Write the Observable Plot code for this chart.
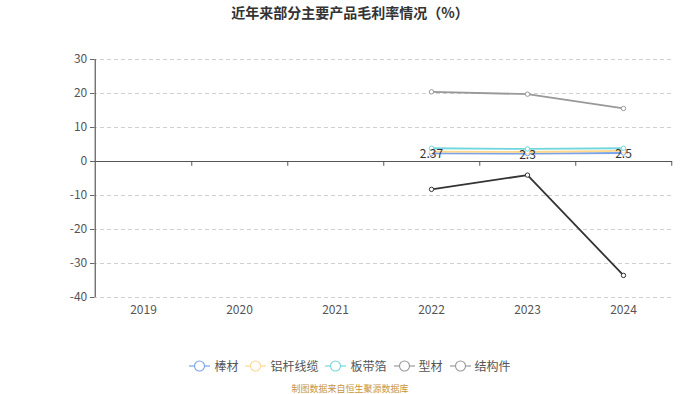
<!DOCTYPE html>
<html><head><meta charset="utf-8">
<script src="https://cdn.jsdelivr.net/npm/d3@7"></script>
<script src="https://cdn.jsdelivr.net/npm/@observablehq/plot@0.6"></script>
<style>
body{margin:0;width:700px;height:394px;background:#fff;font-family:"Noto Sans CJK SC","Noto Sans",sans-serif;overflow:hidden;position:relative}
#title{position:absolute;top:2px;left:0;width:700px;text-align:center;font-size:14px;font-weight:bold;color:#333}
#chart{position:absolute;top:30px;left:0}
#legend{position:absolute;top:357px;left:0;width:700px;display:flex;justify-content:center;gap:7px;font-size:12px;color:#555}
#legend span{display:flex;align-items:center;gap:4px}
#caption{position:absolute;top:382px;left:0;width:700px;text-align:center;font-size:9px;color:#c9953a}
</style></head>
<body>
<div id="title">近年来部分主要产品毛利率情况（%）</div>
<div id="chart"></div>
<div id="legend"></div>
<div id="caption">制图数据来自恒生聚源数据库</div>
<script>
const years = ["2019","2020","2021","2022","2023","2024"];
const dataYears = ["2022","2023","2024"];
const seriesNames = ["棒材","铝杆线缆","板带箔","型材","结构件"];
const seriesColors = ["#7aa2e8","#ffd88a","#72d7dd","#999999","#333333"];
const legendColors = ["#7aa2e8","#ffd88a","#72d7dd","#999999","#999999"];
const bangcai = [2.37, 2.3, 2.5];
const lvgan = [2.9, 2.8, 3.1];
const bandaibo = [3.9, 3.7, 3.9];
const xingcai = [20.5, 19.8, 15.6];
const jiegoujian = [-8.2, -4.0, -33.5];
const yTicks = [30,20,10,0,-10,-20,-30,-40];
const labelTexts = ["2.37","2.3","2.5"];

const allValues = [bangcai, lvgan, bandaibo, xingcai, jiegoujian];
const rows = [];
seriesNames.forEach((s,i)=>dataYears.forEach((y,j)=>rows.push({series:s, year:y, value:allValues[i][j], color:seriesColors[i]})));
const labelRows = dataYears.map((y,j)=>({year:y, value:bangcai[j], text:labelTexts[j]}));

const W = 700, H = 320, mL = 93, mR = 28, mT = 29, mB = 53;
const bw = (W - mL - mR) / years.length;

const marks = [
  Plot.ruleY(yTicks.filter(d=>d!==0), {stroke:"#d0d0d0", strokeDasharray:"4,3"}),
  Plot.ruleY([0], {stroke:"#555", strokeWidth:1}),
  Plot.ruleX([years[0]], {y1:30, y2:-40, stroke:"#666", strokeWidth:1.3, dx:-bw/2}),
  Plot.ruleX(years, {y1:0, y2:-1.4, stroke:"#555", dx:bw/2}),
  Plot.tickY(yTicks, {x:()=>years[0], y:d=>d, stroke:"#666", insetRight: bw - 5, dx:-5, strokeWidth:1}),
  Plot.text(yTicks, {x:()=>years[0], y:d=>d, text:d=>String(d), textAnchor:"end", dx:-bw/2 - 8, fontSize:12, fill:"#555"}),
  Plot.text(years, {x:d=>d, y:()=>-40, text:d=>d, dy:13, fontSize:12, fill:"#555"}),
];
seriesNames.forEach((s,i)=>{
  const d = rows.filter(r=>r.series===s);
  marks.push(Plot.line(d, {x:"year", y:"value", stroke:seriesColors[i], strokeWidth: i>=3?1.8:1.8}));
});
seriesNames.forEach((s,i)=>{
  const d = rows.filter(r=>r.series===s);
  marks.push(Plot.dot(d, {x:"year", y:"value", r:2.2, fill:"#fff", stroke:seriesColors[i], strokeWidth:1}));
});
marks.push(Plot.text(labelRows, {x:"year", y:"value", text:"text", fontSize:12, fill:"#333", dy:1}));

const chart = Plot.plot({
  width: W, height: H,
  marginLeft: mL, marginRight: mR, marginTop: mT, marginBottom: mB,
  x: {type:"band", domain: years, padding:0, axis:null},
  y: {domain:[-40,30], axis:null},
  style: {fontFamily:'"Noto Sans CJK SC","Noto Sans",sans-serif', background:"#fff"},
  marks
});
document.getElementById("chart").appendChild(chart);

const legend = document.getElementById("legend");
seriesNames.forEach((s,i)=>{
  const span = document.createElement("span");
  span.innerHTML = `<svg width="21" height="14"><line x1="0" y1="7" x2="21" y2="7" stroke="${legendColors[i]}" stroke-width="1.2"/><circle cx="10.5" cy="7" r="5" fill="#fff" stroke="${legendColors[i]}" stroke-width="1.1"/></svg>${s}`;
  legend.appendChild(span);
});
</script>
</body></html>
